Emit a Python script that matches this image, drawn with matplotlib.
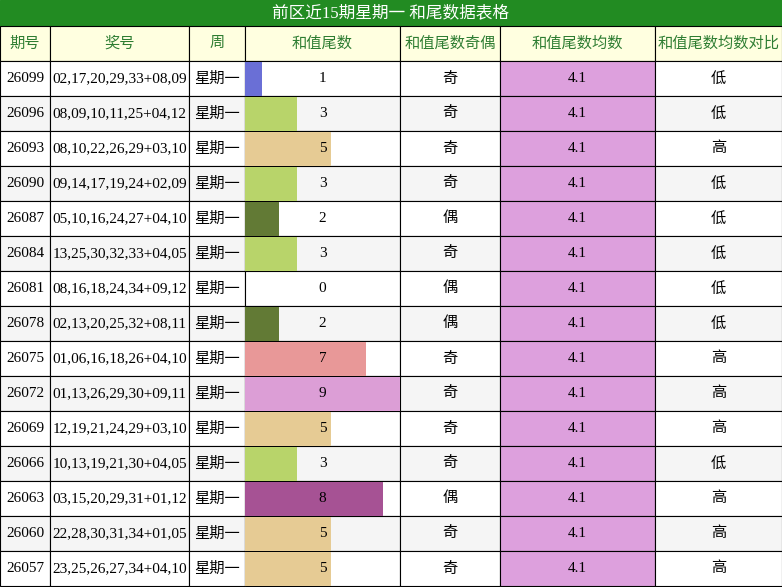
import matplotlib.pyplot as plt
from matplotlib.patches import Rectangle

plt.rcParams['font.family'] = ['Liberation Serif', 'Noto Sans CJK SC', 'DejaVu Sans']

title = "前区近15期星期一 和尾数据表格"
headers = ["期号", "奖号", "周", "和值尾数", "和值尾数奇偶", "和值尾数均数", "和值尾数均数对比"]
issues = ["26099", "26096", "26093", "26090", "26087", "26084", "26081", "26078",
          "26075", "26072", "26069", "26066", "26063", "26060", "26057"]
numbers = ["02,17,20,29,33+08,09", "08,09,10,11,25+04,12", "08,10,22,26,29+03,10",
           "09,14,17,19,24+02,09", "05,10,16,24,27+04,10", "13,25,30,32,33+04,05",
           "08,16,18,24,34+09,12", "02,13,20,25,32+08,11", "01,06,16,18,26+04,10",
           "01,13,26,29,30+09,11", "12,19,21,24,29+03,10", "10,13,19,21,30+04,05",
           "03,15,20,29,31+01,12", "22,28,30,31,34+01,05", "23,25,26,27,34+04,10"]
tails = [1, 3, 5, 3, 2, 3, 0, 2, 7, 9, 5, 3, 8, 5, 5]
parity = ["奇", "奇", "奇", "奇", "偶", "奇", "偶", "偶", "奇", "奇", "奇", "奇", "偶", "奇", "奇"]
avg = 4.1
compare = ["低", "低", "高", "低", "低", "低", "低", "低", "高", "高", "高", "低", "高", "高", "高"]

tail_colors = {0: "#ffffff", 1: "#6a6fd6", 2: "#627a35", 3: "#b8d46a", 5: "#e6cb94",
               7: "#e89898", 8: "#a65294", 9: "#dc9ed6"}

W, H = 782, 587
cols = [0, 50, 189, 245, 400, 500, 655, 782]
title_h, head_h, row_h = 26, 35, 35

fig = plt.figure(figsize=(W / 100, H / 100), dpi=100)
ax = fig.add_axes([0, 0, 1, 1])
ax.set_xlim(0, W)
ax.set_ylim(H, 0)
ax.axis("off")

# title bar
ax.add_patch(Rectangle((0, 0), W, title_h, color="#228b22"))
ax.text(W / 2, title_h / 2, title, color="white", fontsize=12, ha="center", va="center")

# header
for i, h in enumerate(headers):
    x0, x1 = cols[i], cols[i + 1]
    ax.add_patch(Rectangle((x0, title_h), x1 - x0, head_h, facecolor="#ffffe0", edgecolor="black", lw=0.8))
    ax.text((x0 + x1) / 2, title_h + head_h / 2, h, color="#2e7d32", fontsize=11, ha="center", va="center")

y0 = title_h + head_h
for r in range(len(issues)):
    top = y0 + r * row_h
    bg = "#ffffff" if r % 2 == 0 else "#f5f5f5"
    for i in range(7):
        fc = "#dda0dd" if i == 5 else bg
        ax.add_patch(Rectangle((cols[i], top), cols[i + 1] - cols[i], row_h, facecolor=fc, edgecolor="black", lw=0.8, zorder=1))

# tail bars
bar_w = cols[4] - cols[3]
centers = [y0 + r * row_h + row_h / 2 for r in range(len(issues))]
ax.barh(centers, [t / 9 * bar_w for t in tails], height=row_h - 1, left=cols[3],
        color=[tail_colors[t] for t in tails], zorder=2)

for r, c in enumerate(centers):
    vals = [issues[r], numbers[r], "星期一", str(tails[r]), parity[r], str(avg), compare[r]]
    for i, v in enumerate(vals):
        ax.text((cols[i] + cols[i + 1]) / 2, c, v, fontsize=11, ha="center", va="center", zorder=3)

fig.savefig("out.png", dpi=100)
